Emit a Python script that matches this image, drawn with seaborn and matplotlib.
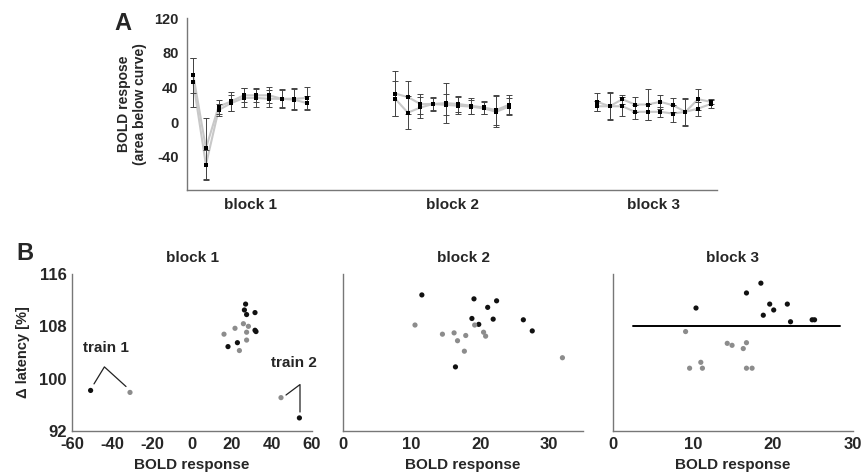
import numpy as np
import pandas as pd
import matplotlib
matplotlib.use("Agg")
import matplotlib.pyplot as plt
import seaborn as sns

sns.set_style("white")
plt.rcParams['font.family'] = ['Liberation Sans', 'DejaVu Sans']
plt.rcParams['font.weight'] = 'bold'
plt.rcParams['axes.unicode_minus'] = False

# ---------------- Panel A data ----------------
block_names = ["block 1", "block 2", "block 3"]
b1_s1 = [54, -30, 18, 24, 31, 31, 31, 27, 27, 28]
b1_s1_err = [20, 35, 8, 11, 8, 8, 9, 11, 12, 13]
b1_s2 = [46, -49, 14, 22, 28, 28, 27, 27, 26, 22]
b1_s2_err = [28, 17, 7, 9, 11, 10, 10, 10, 12, 8]
b2_s1 = [33, 29, 21, 21, 22, 21, 19, 17, 14, 20]
b2_s1_err = [26, 19, 12, 8, 23, 9, 9, 8, 17, 11]
b2_s2 = [27, 11, 17, 21, 20, 19, 18, 16, 12, 18]
b2_s2_err = [20, 19, 12, 7, 12, 10, 8, 7, 18, 10]
b3_s1 = [23.5, 18.4, 26.5, 20.4, 20.4, 23.5, 19.6, 12, 26.5, 23.5]
b3_s1_err = [10, 16, 5, 9, 18, 8, 8, 15, 12, 3]
b3_s2 = [18.4, 18.4, 18.4, 12, 12, 12, 10, 12, 15.7, 21]
b3_s2_err = [6, 15, 11, 8, 9, 6, 10, 16, 8, 5]
trial_index = list(range(10))
block_offset = [0, 16, 32]

# ---------------- Panel B data ----------------
b1_black_x = [-50.7, 53.7, 26.8, 26.2, 27.3, 31.5, 31.5, 32.0, 18.0, 22.7]
b1_black_y = [98.2, 94.0, 111.4, 110.5, 109.8, 110.1, 107.4, 107.2, 104.9, 105.5]
b1_gray_x = [-31.0, 44.5, 25.7, 28.2, 27.3, 21.5, 16.0, 27.3, 23.7]
b1_gray_y = [97.9, 97.1, 108.4, 108.0, 107.1, 107.7, 106.8, 105.9, 104.3]

b2_black_x = [11.5, 19.1, 22.4, 21.1, 18.8, 21.9, 19.8, 26.3, 27.6, 16.4]
b2_black_y = [112.8, 112.2, 111.9, 110.9, 109.2, 109.1, 108.3, 109.0, 107.3, 101.8]
b2_gray_x = [10.5, 19.2, 14.5, 16.2, 17.9, 16.7, 20.5, 20.8, 17.7, 32.0]
b2_gray_y = [108.2, 108.2, 106.8, 107.0, 106.6, 105.8, 107.1, 106.5, 104.2, 103.2]

b3_black_x = [18.5, 16.7, 10.4, 19.6, 21.8, 20.1, 18.8, 22.2, 24.9, 25.2]
b3_black_y = [114.6, 113.1, 110.8, 111.4, 111.4, 110.5, 109.7, 108.7, 109.0, 109.0]
b3_gray_x = [9.1, 14.3, 14.9, 16.7, 16.3, 11.0, 9.6, 11.2, 16.7, 17.4]
b3_gray_y = [107.2, 105.4, 105.1, 105.5, 104.6, 102.5, 101.6, 101.6, 101.6, 101.6]
b3_line_y = 108

# ---------------- Build panel A frame ----------------
rows = []
series_data = [
    [(b1_s1, b1_s1_err), (b1_s2, b1_s2_err)],
    [(b2_s1, b2_s1_err), (b2_s2, b2_s2_err)],
    [(b3_s1, b3_s1_err), (b3_s2, b3_s2_err)],
]
for bi, blk in enumerate(series_data):
    for si, (vals, errs) in enumerate(blk):
        for t, v, e in zip(trial_index, vals, errs):
            rows.append(dict(block=bi, series=si, x=t + block_offset[bi], y=v, err=e))
dfA = pd.DataFrame(rows)

fig = plt.figure(figsize=(8.63, 4.75), dpi=100)
spine_col = "#777777"

# ---------------- Panel A ----------------
axA = fig.add_axes([187/863, 1-190/475, (717-187)/863, (190-18)/475])
for (bi, si), sub in dfA.groupby(["block", "series"]):
    sns.lineplot(data=sub, x="x", y="y", ax=axA, color="#c8c8c8", lw=1.5,
                 estimator=None, sort=False, legend=False, zorder=1)
    axA.errorbar(sub["x"], sub["y"], yerr=sub["err"], fmt="none", ecolor="#444444",
                 elinewidth=0.7, capsize=2, capthick=0.7, zorder=2)
sns.scatterplot(data=dfA, x="x", y="y", ax=axA, color="black", marker="s", s=12,
                edgecolor="black", linewidth=0, legend=False, zorder=3)
axA.set_xlim(-0.5, 41.5)
axA.set_ylim(-78, 120)
axA.set_yticks([-40, 0, 40, 80, 120])
axA.set_xticks([4.5, 20.5, 36.5])
axA.set_xticklabels(block_names, fontsize=11, fontweight="bold")
axA.tick_params(axis="x", length=0, pad=6)
axA.tick_params(axis="y", length=0, pad=6, labelsize=10.5)
for lab in axA.get_yticklabels():
    lab.set_fontweight("bold")
axA.set_xlabel("")
axA.set_ylabel("BOLD respose\n(area below curve)", fontsize=10, fontweight="bold", labelpad=5)
for s in ["top", "right"]:
    axA.spines[s].set_visible(False)
for s in ["left", "bottom"]:
    axA.spines[s].set_color(spine_col)
    axA.spines[s].set_linewidth(1.0)
fig.text(123/863, 1-23/475, "A", fontsize=17, fontweight="bold", ha="center", va="center")

# ---------------- Panel B ----------------
bottom = 1 - 431/475
height = (431 - 274)/475
lefts = [72, 343, 612.7]
rights = [312, 583, 853]
xlims = [(-60, 60), (0, 35), (0, 30)]
xmajor = [[-60, -40, -20, 0, 20, 40, 60], [0, 10, 20, 30], [0, 10, 20, 30]]
xminor = [[], [5, 15, 25, 35], [5, 15, 25]]
blk_pts = [
    (b1_black_x, b1_black_y, b1_gray_x, b1_gray_y),
    (b2_black_x, b2_black_y, b2_gray_x, b2_gray_y),
    (b3_black_x, b3_black_y, b3_gray_x, b3_gray_y),
]
axesB = []
for i in range(3):
    ax = fig.add_axes([lefts[i]/863, bottom, (rights[i]-lefts[i])/863, height])
    axesB.append(ax)
    bx, by, gx, gy = blk_pts[i]
    dfb = pd.DataFrame({"x": bx + gx, "y": by + gy,
                        "grp": ["black"]*len(bx) + ["gray"]*len(gx)})
    sns.scatterplot(data=dfb, x="x", y="y", hue="grp",
                    palette={"black": "#111111", "gray": "#8c8c8c"},
                    s=14, linewidth=0, legend=False, ax=ax, zorder=3)
    ax.set_xlim(*xlims[i])
    ax.set_ylim(92, 116)
    ax.set_xticks(xmajor[i])
    ax.set_xticks(xminor[i], minor=True)
    ax.set_yticks([92, 100, 108, 116])
    ax.set_yticks([96, 104, 112], minor=True)
    ax.tick_params(axis="both", which="both", direction="in", length=3, color=spine_col,
                   labelsize=12, pad=4)
    if i > 0:
        ax.tick_params(axis="y", which="both", labelleft=False)
        ax.set_ylabel("")
    else:
        ax.set_ylabel("Δ latency [%]", fontsize=10.5, fontweight="bold", labelpad=6)
    for lab in ax.get_xticklabels() + ax.get_yticklabels():
        lab.set_fontweight("bold")
    ax.set_xlabel("BOLD response", fontsize=11, fontweight="bold", labelpad=5)
    ax.set_title(block_names[i], fontsize=11, fontweight="bold", pad=9)
    for s in ["top", "right"]:
        ax.spines[s].set_visible(False)
    for s in ["left", "bottom"]:
        ax.spines[s].set_color(spine_col)
        ax.spines[s].set_linewidth(1.0)

# annotations in block 1
ax1 = axesB[0]
ax1.plot([-49, -43.8, -33], [99.2, 101.8, 98.8], color="#222222", lw=0.9, zorder=2)
ax1.text(-43, 103.6, "train 1", fontsize=11, fontweight="bold", ha="center", va="bottom")
ax1.plot([47, 54, 54], [97.5, 99.1, 94.9], color="#222222", lw=0.9, zorder=2)
ax1.text(51, 101.3, "train 2", fontsize=11, fontweight="bold", ha="center", va="bottom")

# horizontal line in block 3
axesB[2].plot([2.5, 28.4], [b3_line_y, b3_line_y], color="black", lw=1.4, zorder=2)

fig.text(25/863, 1-253/475, "B", fontsize=17, fontweight="bold", ha="center", va="center")

fig.savefig("out.png", dpi=100)
